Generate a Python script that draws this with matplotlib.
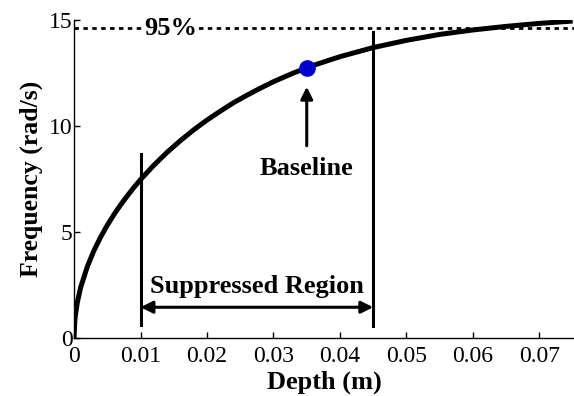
import matplotlib
matplotlib.use("Agg")
import matplotlib.pyplot as plt

plt.rcParams['font.family'] = ['Liberation Serif', 'DejaVu Serif']

# values
depth = [0, 0.0001, 0.0002, 0.0005, 0.001, 0.002, 0.003, 0.004, 0.005, 0.006, 0.007,
         0.008, 0.009, 0.010, 0.012, 0.014, 0.016, 0.018, 0.020, 0.022, 0.024,
         0.026, 0.028, 0.030, 0.033, 0.036, 0.040, 0.045, 0.050, 0.055, 0.060,
         0.065, 0.070, 0.075]
freq = [0, 0.75, 1.07, 1.69, 2.39, 3.37, 4.13, 4.76, 5.32, 5.82, 6.28,
        6.70, 7.10, 7.47, 8.15, 8.76, 9.31, 9.82, 10.28, 10.70, 11.10,
        11.45, 11.78, 12.09, 12.50, 12.86, 13.27, 13.70, 14.04, 14.32, 14.53,
        14.70, 14.84, 14.95]

level95 = 14.6
baseline = (0.035, 12.75)
region = (0.01, 0.045)

fig = plt.figure(figsize=(5.74, 3.96), dpi=100)
ax = fig.add_axes([0.129, 0.1465, 0.871, 0.803])

ax.plot(depth, freq, color='k', lw=3.6, solid_capstyle='butt', zorder=3)

# 95% line
ax.axhline(level95, color='k', lw=2, linestyle=(0, (1.6, 1.6)))
ax.text(0.0145, level95, '95%', fontsize=19, fontweight='bold', ha='center', va='center',
        bbox=dict(facecolor='white', edgecolor='none', pad=1), zorder=4)

# suppressed region
ax.plot([region[0], region[0]], [0.6, 8.7], color='k', lw=2.2)
ax.plot([region[1], region[1]], [0.55, 14.45], color='k', lw=2.2)
ax.annotate('', xy=(region[1], 1.45), xytext=(region[0], 1.45),
            arrowprops=dict(arrowstyle='<|-|>', color='k', lw=2.2, mutation_scale=18,
                            shrinkA=0, shrinkB=0))
ax.text(sum(region) / 2, 2.45, 'Suppressed Region', fontsize=19, fontweight='bold',
        ha='center', va='center')

# baseline point
ax.plot(*baseline, 'o', color='#0000cc', markersize=11, zorder=5)
ax.annotate('', xy=(baseline[0], 11.85), xytext=(baseline[0], 9.07),
            arrowprops=dict(arrowstyle='-|>', color='k', lw=2.2, mutation_scale=18,
                            shrinkA=0, shrinkB=0))
ax.text(baseline[0], 8.0, 'Baseline', fontsize=19, fontweight='bold', ha='center', va='center')

ax.set_xlim(0, 0.0752)
ax.set_ylim(0, 15)
ax.set_xticks([0, 0.01, 0.02, 0.03, 0.04, 0.05, 0.06, 0.07])
ax.set_xticklabels(['0', '0.01', '0.02', '0.03', '0.04', '0.05', '0.06', '0.07'])
ax.set_yticks([0, 5, 10, 15])
ax.tick_params(direction='in', length=4.5, width=1, labelsize=17)
ax.tick_params(axis='x', pad=6)
ax.tick_params(axis='y', pad=1)
ax.spines['top'].set_visible(False)
ax.spines['right'].set_visible(False)
for s in ['left', 'bottom']:
    ax.spines[s].set_linewidth(1)

ax.set_xlabel('Depth (m)', fontsize=19, fontweight='bold', labelpad=2)
ax.set_ylabel('Frequency (rad/s)', fontsize=18.5, fontweight='bold', labelpad=4)

fig.savefig('out.png', dpi=100)
